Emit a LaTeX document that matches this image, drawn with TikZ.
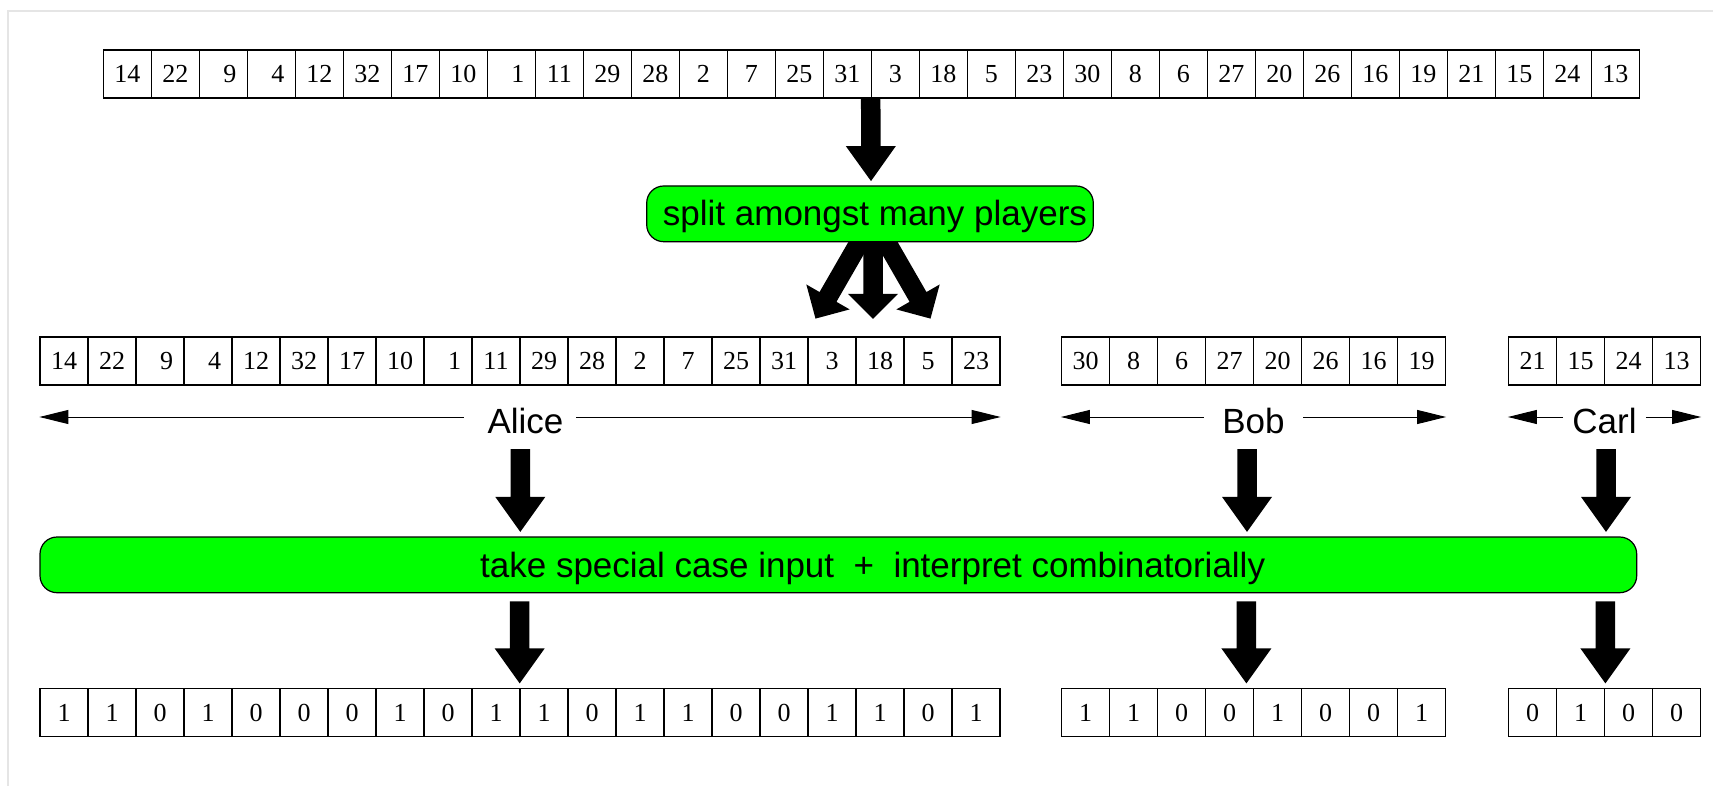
\documentclass[tikz,border=0pt]{standalone}
\usepackage{fontspec}
\setmainfont{Liberation Serif}
\setsansfont{Liberation Sans}
\usetikzlibrary{calc,arrows.meta,backgrounds}
\definecolor{procgreen}{RGB}{0,255,0}
% a one-digit entry set flush right in a two-digit slot
\newcommand{\padnum}[1]{\phantom{0}#1}
% fat block arrow from #1 to #2, head length #3
\newcommand{\blockarrow}[3]{%
  \path ($(#2)!#3!(#1)$) coordinate (ab-base);
  \fill[black] ($(#1)!4.875pt!90:(#2)$) -- ($(ab-base)!4.875pt!90:(#2)$)
    -- ($(ab-base)!12.5pt!90:(#2)$) -- (#2) -- ($(ab-base)!12.5pt!-90:(#2)$)
    -- ($(ab-base)!4.875pt!-90:(#2)$) -- ($(#1)!4.875pt!-90:(#2)$) -- cycle;}
\begin{document}
\begin{tikzpicture}[x=0.5pt, y=-0.5pt,
  cell/.style={draw, line width=0.6pt, minimum width=24pt, minimum height=24pt,
    inner sep=0pt, font=\fontsize{13pt}{15pt}\selectfont},
  proc/.style={draw, line width=0.6pt, fill=procgreen, rounded corners=8.5pt,
    inner xsep=2pt, inner ysep=2pt, text height=15.85pt, text depth=3.7pt,
    minimum height=27.85pt, font=\sffamily\fontsize{17.5pt}{21pt}\selectfont},
  player/.style={inner ysep=0pt, text height=16.3pt, text depth=0pt,
    font=\sffamily\fontsize{17.5pt}{21pt}\selectfont},
  span/.style={line width=0.5pt, -{Triangle[length=14.5pt,width=7pt]}},
  frame/.style={black!10, line width=0.7pt}]
\begin{scope}[on background layer]
  \fill[white] (0,0) rectangle (1713,786);
\end{scope}
\useasboundingbox (0,0) rectangle (1713,786);
\draw[frame] (8,786) -- (8,11) -- (1713,11);

% full input sequence
\foreach \v [count=\i from 0] in {14,22,\padnum9,\padnum4,12,32,17,10,\padnum1,11,29,28,2,7,25,31,3,18,5,23,30,8,6,27,20,26,16,19,21,15,24,13}
  \node[cell] (t\i) at ({127.3+48*\i},74) {\v};

\node[proc, minimum width=223.3pt] (split) at (870,213.85) {\hspace*{5pt}split amongst many players};

% the three shares
\foreach \v [count=\i from 0] in {14,22,\padnum9,\padnum4,12,32,17,10,\padnum1,11,29,28,2,7,25,31,3,18,5,23}
  \node[cell] (a\i) at ({64+48*\i},361) {\v};
\foreach \v [count=\i from 0] in {30,8,6,27,20,26,16,19}
  \node[cell] (b\i) at ({1085.5+48*\i},361) {\v};
\foreach \v [count=\i from 0] in {21,15,24,13}
  \node[cell] (c\i) at ({1532.5+48*\i},361) {\v};

% player names with their spans
\node[player, inner xsep=6.15pt] (alice) at (520,417) {\hspace*{5.5pt}Alice};
\draw[span] (alice.west) -- (a0.west |- alice.west);
\draw[span] (alice.east) -- (a19.east |- alice.east);
\node[player, inner xsep=9pt] (bob) at (1253.5,417) {Bob};
\draw[span] (bob.west) -- (b0.west |- bob.west);
\draw[span] (bob.east) -- (b7.east |- bob.east);
\node[player, inner xsep=4.4pt] (carl) at (1604.5,417) {Carl};
\draw[span] (carl.west) -- (c0.west |- carl.west);
\draw[span] (carl.east) -- (c3.east |- carl.east);

\node[proc, minimum width=798.35pt] (take) at (838.35,564.85) {\hspace*{34.3pt}take special case input\ \ +\ \ interpret combinatorially};

% output bits
\foreach \v [count=\i from 0] in {1,1,0,1,0,0,0,1,0,1,1,0,1,1,0,0,1,1,0,1}
  \node[cell] (ab\i) at ({64+48*\i},712.5) {\v};
\foreach \v [count=\i from 0] in {1,1,0,0,1,0,0,1}
  \node[cell] (bb\i) at ({1085.5+48*\i},712.5) {\v};
\foreach \v [count=\i from 0] in {0,1,0,0}
  \node[cell] (cb\i) at ({1532.5+48*\i},712.5) {\v};

% input into the splitter
\coordinate (top-s) at (t16.south west);
\coordinate (top-e) at ($(split.north)+(1,-4.3)$);
\blockarrow{top-s}{top-e}{17.5pt}

% splitter fanning out, tucked under the box
\begin{scope}[on background layer]
  \coordinate (spm-s) at ($(split.south)+(3,-7)$);
  \coordinate (spm-e) at ($(split.south)+(3,76.6)$);
  \coordinate (spl-s) at ($(split.south)+(-6.5,-7)$);
  \coordinate (spl-e) at ($(split.south)+(-54.5,76.3)$);
  \coordinate (spr-s) at ($(split.south)+(12.5,-7)$);
  \coordinate (spr-e) at ($(split.south)+(60.5,76.3)$);
  \blockarrow{spl-s}{spl-e}{12.5pt}
  \blockarrow{spr-s}{spr-e}{12.5pt}
  \blockarrow{spm-s}{spm-e}{12.5pt}
\end{scope}

% each player into the interpreter and out to the bits
\coordinate (al-s) at ($(alice)+(0.3,32)$);
\coordinate (al-e) at ($(take.north -| alice)+(0.3,-4.5)$);
\blockarrow{al-s}{al-e}{17.5pt}
\coordinate (bo-s) at ($(bob)+(-6.5,32)$);
\coordinate (bo-e) at ($(take.north -| bob)+(-6.5,-4.5)$);
\blockarrow{bo-s}{bo-e}{17.5pt}
\coordinate (ca-s) at ($(carl)+(1.5,32)$);
\coordinate (ca-e) at ($(take.north -| carl)+(1.5,-4.5)$);
\blockarrow{ca-s}{ca-e}{17.5pt}

\coordinate (alo-s) at ($(take.south -| ab10.north west)+(0.3,8)$);
\coordinate (alo-e) at ($(ab10.north west)+(0.3,-4.5)$);
\blockarrow{alo-s}{alo-e}{17.5pt}
\coordinate (boo-s) at ($(take.south -| bb4.north west)+(-6.5,8)$);
\coordinate (boo-e) at ($(bb4.north west)+(-6.5,-4.5)$);
\blockarrow{boo-s}{boo-e}{17.5pt}
\coordinate (cao-s) at ($(take.south -| cb2.north west)+(1.5,8)$);
\coordinate (cao-e) at ($(cb2.north west)+(1.5,-4.5)$);
\blockarrow{cao-s}{cao-e}{17.5pt}
\end{tikzpicture}
\end{document}
